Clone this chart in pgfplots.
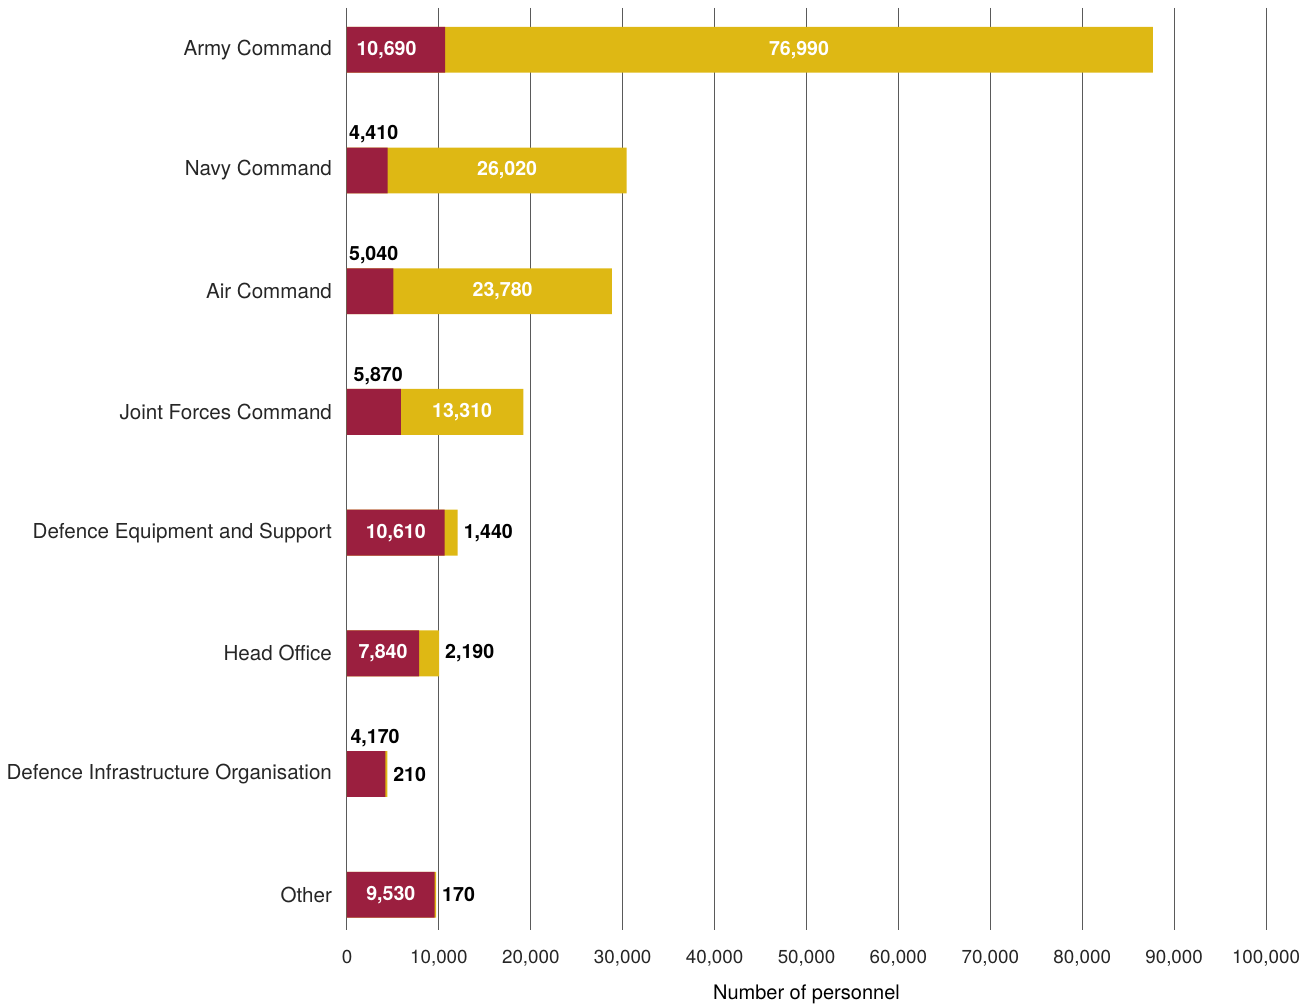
\documentclass[border=0pt]{standalone}
\usepackage{pgfplots}
\pgfplotsset{compat=1.18}
\usepackage{pgfplotstable}
\usepackage{fontspec}
\setmainfont{TeX Gyre Heros}
\definecolor{maroon}{HTML}{9B1F3F}
\definecolor{gold}{HTML}{DEB814}
\definecolor{gridc}{HTML}{5A5A5A}

\pgfplotstableread{
idx maroon gold
0 10690 76990
1 4410 26020
2 5040 23780
3 5870 13310
4 10610 1440
5 7840 2190
6 4170 210
7 9530 170
}\bars

\begin{document}
\begin{tikzpicture}
\useasboundingbox (-173.5pt,-37.5pt) rectangle (481.5pt,465pt);
\begin{axis}[
  at={(0,0)}, anchor=south west,
  scale only axis, width=459.5pt, height=461pt,
  xmin=0, xmax=100000,
  ymin=-0.346, ymax=7.292, y dir=reverse,
  axis line style={draw=none},
  major tick length=0pt,
  xtick={0,10000,20000,30000,40000,50000,60000,70000,80000,90000,100000},
  scaled x ticks=false,
  xticklabels={0,{10,000},{20,000},{30,000},{40,000},{50,000},{60,000},{70,000},{80,000},{90,000},{100,000}},
  xticklabel style={font=\fontsize{9.4}{11}\selectfont, text=black!85, yshift=-6.5pt},
  ytick={0,1,2,3,4,5,6,7},
  yticklabels={Army Command, Navy Command, Air Command, Joint Forces Command, Defence Equipment and Support, Head Office, Defence Infrastructure Organisation, Other},
  yticklabel style={font=\fontsize{10.3}{12}\selectfont, text=black!85, xshift=-4pt},
  xmajorgrids, ymajorgrids=false,
  grid style={gridc, line width=0.5pt},
  xlabel={Number of personnel},
  xlabel style={font=\fontsize{10.5}{12}\selectfont, text=black!90},
  every axis x label/.style={at={(axis description cs:0.5,0)}, anchor=center, yshift=-32pt},
]
\addplot[xbar, bar shift=0pt, bar width=0.38, fill=gold, draw=none]
  table[y=idx, x expr=\thisrow{maroon}+\thisrow{gold}] {\bars};
\addplot[xbar, bar shift=0pt, bar width=0.38, fill=maroon, draw=none]
  table[y=idx, x=maroon] {\bars};
% white labels inside bars
\addplot[draw=none, mark=none, nodes near coords, point meta=explicit symbolic,
  every node near coord/.style={anchor=center, text=white, font=\fontsize{9.8}{11}\selectfont\bfseries}]
  table[x=x, y=y, meta=lab] {
x y lab
4300 0 10,690
49185 0 76,990
17420 1 26,020
16930 2 23,780
12525 3 13,310
5305 4 10,610
3920 5 7,840
4765 7 9,530
};
% black labels above bars
\addplot[draw=none, mark=none, nodes near coords, point meta=explicit symbolic,
  every node near coord/.style={anchor=center, text=black, font=\fontsize{9.8}{11}\selectfont\bfseries}]
  table[x=x, y=y, meta=lab] {
x y lab
2900 0.70 4,410
2900 1.70 5,040
3400 2.70 5,870
3050 5.70 4,170
};
% black labels right of bars
\addplot[draw=none, mark=none, nodes near coords, point meta=explicit symbolic,
  every node near coord/.style={anchor=west, xshift=-0.5pt, text=black, font=\fontsize{9.8}{11}\selectfont\bfseries}]
  table[x=x, y=y, meta=lab] {
x y lab
12050 4 1,440
10030 5 2,190
4380 6 210
9700 7 170
};
\end{axis}
\end{tikzpicture}
\end{document}
